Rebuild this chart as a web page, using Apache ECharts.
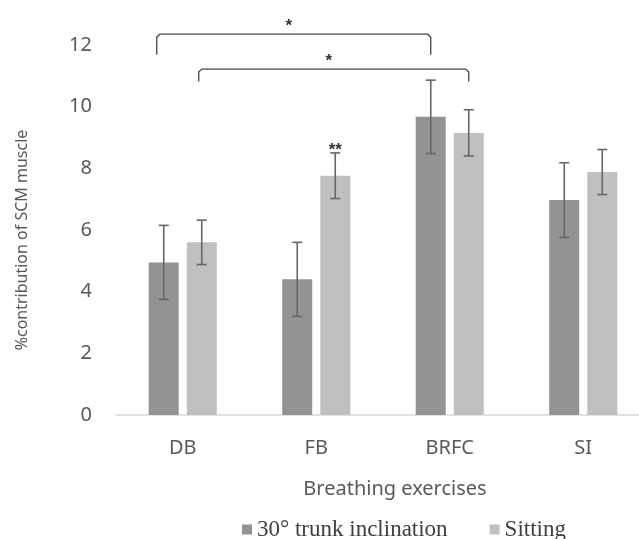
<!DOCTYPE html>
<html>
<head>
<meta charset="utf-8">
<script src="https://cdn.jsdelivr.net/npm/echarts@6/dist/echarts.min.js"></script>
<style>
  html, body { margin: 0; padding: 0; background: #fff; }
  #chart { width: 639px; height: 539px; }
</style>
</head>
<body>
<div id="chart"></div>
<script>
var categories = ['DB', 'FB', 'BRFC', 'SI'];
var seriesNames = ['30° trunk inclination', 'Sitting'];
var trunkMeans = [4.95, 4.4, 9.67, 6.97];
var trunkSD = [1.2, 1.2, 1.19, 1.21];
var sittingMeans = [5.6, 7.76, 9.15, 7.88];
var sittingSD = [0.72, 0.74, 0.75, 0.73];
var yTicks = { min: 0, max: 12, interval: 2 };
// significance brackets: [fromCategory, fromSeries, toCategory, toSeries, topValue, legValue, text]
var brackets = [
  [0, 0, 2, 0, 12.35, 11.68, '*'],
  [0, 1, 2, 1, 11.22, 10.82, '*']
];
// star notes above error bars: [category, series, text]
var notes = [[1, 1, '**']];

var barWidth = 30;
var barOffset = 19; // half of (bar width + gap)
var capHalf = 5;

var errorData = [];
for (var i = 0; i < categories.length; i++) {
  errorData.push([i, 0, trunkMeans[i] - trunkSD[i], trunkMeans[i] + trunkSD[i]]);
  errorData.push([i, 1, sittingMeans[i] - sittingSD[i], sittingMeans[i] + sittingSD[i]]);
}

function sideOffset(s) { return s === 0 ? -barOffset : barOffset; }

var chartElement = document.getElementById('chart');
var mychart = echarts.init(chartElement);
var textColor = '#595959';
var starStyle = { fontFamily: 'Liberation Sans', fontSize: 17, fontWeight: 'bold', fill: '#333', align: 'center', verticalAlign: 'middle' };
var option = {
  backgroundColor: '#fff',
  animation: false,
  grid: { left: 116, top: 45, width: 534, height: 370, containLabel: false, outerBoundsMode: 'none' },
  legend: {
    data: seriesNames,
    left: 237,
    top: 513,
    icon: 'rect',
    itemWidth: 10,
    itemHeight: 10,
    itemGap: 42,
    textStyle: { fontFamily: 'Liberation Serif', fontSize: 23, color: '#404040' }
  },
  xAxis: {
    type: 'category',
    data: categories,
    name: 'Breathing exercises',
    nameLocation: 'middle',
    nameGap: 64,
    nameTextStyle: { fontFamily: 'Noto Sans', fontSize: 20, color: textColor, padding: [0, 0, 0, 24] },
    axisLine: { lineStyle: { color: '#d9d9d9', width: 1.5 } },
    axisTick: { show: false },
    axisLabel: { fontFamily: 'Noto Sans', fontSize: 20, color: textColor, margin: 23 }
  },
  yAxis: {
    type: 'value',
    min: yTicks.min,
    max: yTicks.max,
    interval: yTicks.interval,
    name: '%contribution of SCM muscle',
    nameLocation: 'middle',
    nameGap: 86,
    nameTextStyle: { fontFamily: 'Noto Sans', fontSize: 16, color: textColor, padding: [0, 20, 0, 0] },
    axisLine: { show: false },
    axisTick: { show: false },
    splitLine: { show: false },
    axisLabel: { fontFamily: 'Noto Sans', fontSize: 20, color: textColor, margin: 24 }
  },
  series: [
    {
      name: seriesNames[0],
      type: 'bar',
      data: trunkMeans,
      barWidth: barWidth,
      barGap: '27%',
      itemStyle: { color: '#939393' }
    },
    {
      name: seriesNames[1],
      type: 'bar',
      data: sittingMeans,
      barWidth: barWidth,
      itemStyle: { color: '#c0c0c0' }
    },
    {
      type: 'custom',
      name: 'error',
      data: errorData,
      z: 5,
      renderItem: function (params, api) {
        var c = api.value(0);
        var off = sideOffset(api.value(1));
        var lo = api.coord([c, api.value(2)]);
        var hi = api.coord([c, api.value(3)]);
        var x = lo[0] + off;
        var style = { stroke: '#666', lineWidth: 1.6 };
        return {
          type: 'group',
          children: [
            { type: 'line', shape: { x1: x, y1: lo[1], x2: x, y2: hi[1] }, style: style },
            { type: 'line', shape: { x1: x - capHalf, y1: lo[1], x2: x + capHalf, y2: lo[1] }, style: style },
            { type: 'line', shape: { x1: x - capHalf, y1: hi[1], x2: x + capHalf, y2: hi[1] }, style: style }
          ]
        };
      }
    },
    {
      type: 'custom',
      name: 'brackets',
      data: brackets,
      z: 5,
      renderItem: function (params, api) {
        var a = api.coord([api.value(0), api.value(4)]);
        var b = api.coord([api.value(2), api.value(4)]);
        var leg = api.coord([api.value(0), api.value(5)]);
        var x1 = a[0] + sideOffset(api.value(1)) - (params.dataIndex === 0 ? 7 : 3);
        var x2 = b[0] + sideOffset(api.value(3));
        var style = { stroke: '#444', lineWidth: 1.3, fill: null };
        return {
          type: 'group',
          children: [
            { type: 'polyline', shape: { points: [[x1, leg[1]], [x1, a[1] + 3], [x1 + 3, a[1]], [x2 - 3, a[1]], [x2, a[1] + 3], [x2, leg[1]]] }, style: style },
            { type: 'text', x: (x1 + x2) / 2 - 5, y: a[1] - 8, style: Object.assign({ text: brackets[params.dataIndex][6] }, starStyle) }
          ]
        };
      }
    },
    {
      type: 'custom',
      name: 'notes',
      data: notes,
      z: 5,
      renderItem: function (params, api) {
        var c = api.value(0);
        var s = api.value(1);
        var top = s === 0 ? trunkMeans[c] + trunkSD[c] : sittingMeans[c] + sittingSD[c];
        var p = api.coord([c, top]);
        return {
          type: 'text',
          x: p[0] + sideOffset(s),
          y: p[1] - 3,
          style: Object.assign({ text: notes[params.dataIndex][2] }, starStyle)
        };
      }
    }
  ]
};
mychart.setOption(option);
</script>
</body>
</html>
